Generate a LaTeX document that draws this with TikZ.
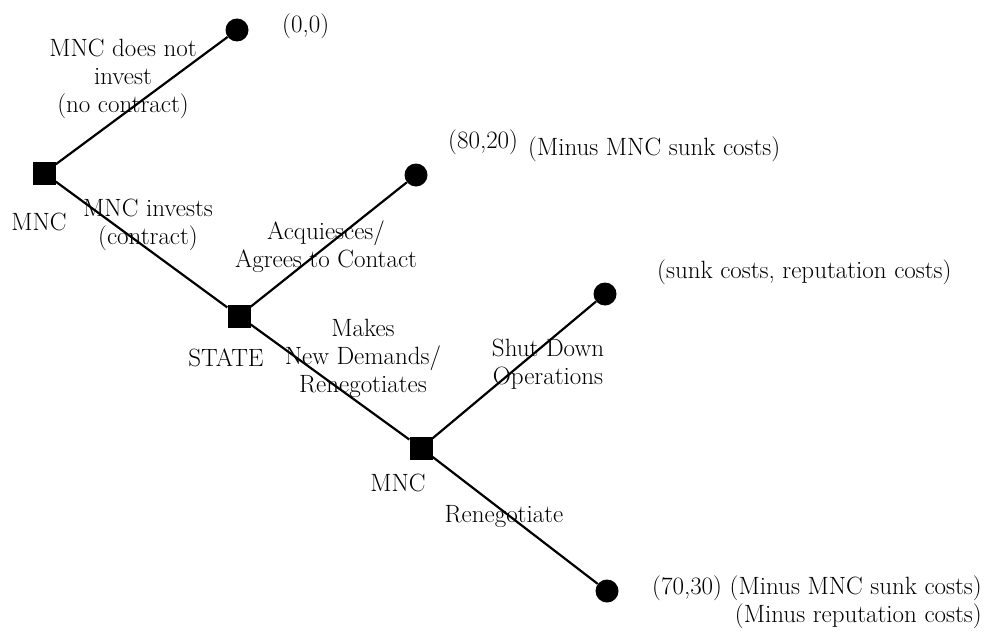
\documentclass[tikz,border=0pt]{standalone}
\usepackage{tikz}
\usetikzlibrary{positioning}
\begin{document}
\begin{tikzpicture}[x=1pt,y=-1pt,every node/.style={inner sep=0pt,font=\fontsize{25}{28}\selectfont},
  dec/.style={rectangle,fill,minimum size=23pt},
  term/.style={circle,fill,minimum size=23pt},
  txt/.style={align=center}]
  \useasboundingbox (0,0) rectangle (987,642);
  \node[dec] (m1) at (44,173){};
  \node[dec] (st) at (239,316){};
  \node[dec] (m2) at (421,448){};
  \node[term] (e1) at (237,30){};
  \node[term] (e2) at (416,175){};
  \node[term] (e3) at (605,294){};
  \node[term] (e4) at (607,591){};

  \node (pm1) at (39,222){MNC};
  \node (pst) at (226,358){STATE};
  \node (pm2) at (398,483){MNC};

  \node[anchor=west] (u1) at (282,26){(0,0)};
  \node[anchor=west] (u2) at (448,142){(80,20)};
  \node[anchor=west] (u2b) at (528,149){(Minus MNC sunk costs)};
  \node[anchor=west] (u3) at (657,272){(sunk costs, reputation costs)};
  \node[anchor=west] (u4) at (652,588){(70,30)};
  \node[align=right,anchor=east] (u4b) at (982,602){(Minus MNC sunk costs)\\(Minus reputation costs)};

  \node[txt] (a1) at (123,79){MNC does not\\invest\\(no contract)};
  \node[txt] (a2) at (148,225){MNC invests\\(contract)};
  \node[txt] (a3) at (326,247){Acquiesces/\\Agrees to Contact};
  \node[txt] (a4) at (363,358){Makes\\New Demands/\\Renegotiates};
  \node[txt] (a5) at (548,364){Shut Down\\Operations};
  \node (a6) at (504,517){Renegotiate};

  \draw[line width=2.2pt](m1)--(e1);
  \draw[line width=2.2pt](m1)--(st)--(e2);
  \draw[line width=2.2pt](st)--(m2)--(e3);
  \draw[line width=2.2pt](m2)--(e4);
\end{tikzpicture}
\end{document}
